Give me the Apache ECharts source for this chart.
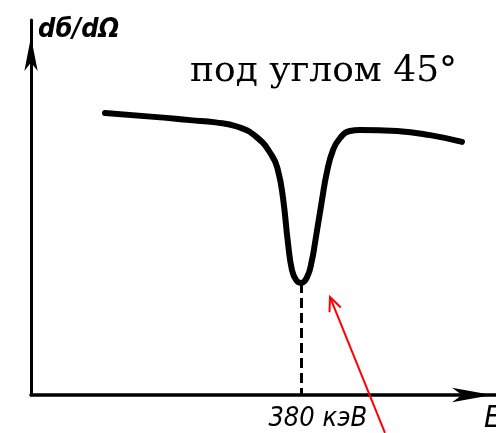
<!DOCTYPE html>
<html>
<head>
<meta charset="utf-8">
<script src="https://cdn.jsdelivr.net/npm/echarts@6/dist/echarts.min.js"></script>
<style>
  html, body { margin: 0; padding: 0; background: #fff; }
  #chart { width: 496px; height: 433px; }
</style>
</head>
<body>
<div id="chart"></div>
<script>
// Energy (keV) and differential cross-section (arbitrary units) along the curve
const energy = [104.2, 177.5, 224.0, 260.0, 290.0, 317.0, 339.5, 348.0, 355.0, 362.0, 367.6, 373.3, 380.0,
                389.0, 395.8, 400.0, 409.9, 416.9, 425.4, 435.3, 449.3, 463.4, 515.6, 562.0, 607.1];
const crossSection = [75.2, 74.1, 73.3, 72.7, 71.6, 68.9, 63.8, 59.8, 52.5, 40.5, 33.3, 30.7, 29.9,
                      31.5, 36.0, 40.5, 52.0, 59.5, 65.3, 68.5, 70.4, 70.7, 70.4, 69.3, 67.5];
const resonanceEnergy = 380;
const resonanceLabel = '380 кэВ';
const titleText = 'под углом 45°';
const yAxisName = 'dб/dΩ';
const xAxisName = 'E';
// Red pointer towards the dip: [tail, head] in data units
const pointerTail = [498.6, -10.1];
const pointerHead = [421.2, 26.1];

const curve = energy.map((e, i) => [e, crossSection[i]]);
const dipValue = crossSection[energy.indexOf(resonanceEnergy)];

const handFont = "'DejaVu Sans Condensed', 'DejaVu Sans', sans-serif";

const chart = echarts.init(document.getElementById('chart'), null, { renderer: 'canvas' });
chart.setOption({
  animation: false,
  backgroundColor: '#ffffff',
  title: {
    text: titleText,
    left: 190,
    top: 54,
    padding: 0,
    textStyle: {
      fontFamily: "'DejaVu Serif', 'Liberation Serif', serif",
      fontSize: 36,
      fontWeight: 'normal',
      color: '#000'
    }
  },
  grid: { left: 31, right: 0, top: 20, bottom: 38, containLabel: false, outerBoundsMode: 'none' },
  xAxis: {
    type: 'value',
    min: 0,
    max: 655,
    name: xAxisName,
    nameLocation: 'end',
    nameGap: -12,
    nameTextStyle: {
      fontFamily: handFont, fontStyle: 'italic', fontSize: 31, color: '#000',
      align: 'left', verticalAlign: 'top', padding: [8, 0, 0, 0]
    },
    splitLine: { show: false },
    axisTick: { show: false },
    axisLine: {
      show: true,
      symbol: ['none', 'arrow'],
      symbolSize: [11, 40],
      symbolOffset: [0, -4],
      lineStyle: { color: '#000', width: 3.5 }
    },
    axisLabel: {
      customValues: [resonanceEnergy],
      formatter: () => resonanceLabel,
      fontFamily: handFont, fontStyle: 'italic', fontSize: 27, color: '#000',
      margin: 10,
      padding: [0, 0, 0, 34]
    }
  },
  yAxis: {
    type: 'value',
    min: 0,
    max: 100,
    name: yAxisName,
    nameLocation: 'end',
    nameGap: -10,
    nameTextStyle: {
      fontFamily: handFont, fontStyle: 'italic', fontWeight: 'bold', fontSize: 27, color: '#000',
      align: 'left', verticalAlign: 'middle', padding: [0, 0, 0, 7]
    },
    splitLine: { show: false },
    axisTick: { show: false },
    axisLabel: { show: false },
    axisLine: {
      show: true,
      symbol: ['none', 'arrow'],
      symbolSize: [10, 34],
      symbolOffset: [0, -17],
      lineStyle: { color: '#000', width: 3 }
    }
  },
  series: [
    {
      type: 'line',
      data: curve,
      smooth: 0.5,
      showSymbol: false,
      clip: false,
      lineStyle: { color: '#000', width: 6, cap: 'round', join: 'round' },
      markLine: {
        silent: true,
        animation: false,
        label: { show: false },
        data: [
          [
            { coord: [resonanceEnergy, dipValue], symbol: 'none',
              lineStyle: { color: '#000', width: 3, type: [10, 5] } },
            { coord: [resonanceEnergy, 0], symbol: 'none' }
          ]
        ]
      }
    }
  ]
});

// Red pointer: positions come from the axes' own scale
const tail = chart.convertToPixel({ gridIndex: 0 }, pointerTail);
const head = chart.convertToPixel({ gridIndex: 0 }, pointerHead);
const ang = Math.atan2(head[1] - tail[1], head[0] - tail[0]);
const headLen = 15, headSpread = 0.42;
const wingA = [head[0] - headLen * Math.cos(ang - headSpread), head[1] - headLen * Math.sin(ang - headSpread)];
const wingB = [head[0] - headLen * Math.cos(ang + headSpread), head[1] - headLen * Math.sin(ang + headSpread)];
chart.setOption({
  graphic: [
    { type: 'line', silent: true, z: 10,
      shape: { x1: tail[0], y1: tail[1], x2: head[0], y2: head[1] },
      style: { stroke: '#ff0000', lineWidth: 2 } },
    { type: 'polyline', silent: true, z: 10,
      shape: { points: [wingA, head, wingB] },
      style: { stroke: '#ff0000', lineWidth: 2, fill: null } }
  ]
});
</script>
</body>
</html>
